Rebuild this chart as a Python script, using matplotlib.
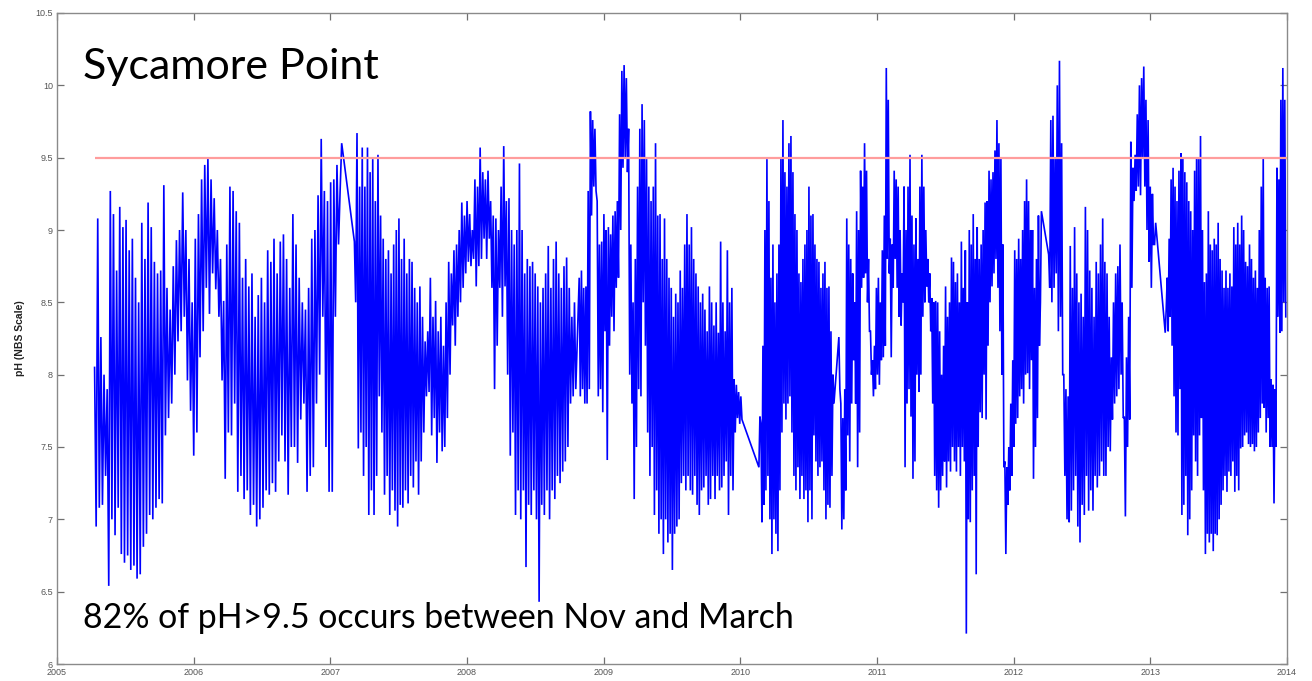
import numpy as np
import matplotlib
matplotlib.use("Agg")
import matplotlib.pyplot as plt

# ---------------------------------------------------------------------------
# Sycamore Point pH record (NBS scale). Each block is a continuous stretch of
# the logger record: (start year, end year, readings in time order).
# Straight joins between blocks are the gaps in the record.
# ---------------------------------------------------------------------------
ph_2005_2007 = [
    8.05, 6.95, 9.08, 7.08, 8.26, 7.10, 8.00, 7.30, 7.90, 6.54,
    9.27, 7.00, 9.11, 6.89, 8.72, 7.08, 9.16, 6.76, 9.02, 6.70,
    9.07, 6.75, 8.86, 6.65, 8.94, 6.68, 8.67, 6.59, 8.50, 6.62,
    9.05, 6.81, 8.80, 6.90, 9.19, 7.03, 9.02, 7.00, 8.78, 7.08,
    8.70, 7.14, 8.72, 7.11, 9.31, 7.58, 8.60, 7.70, 8.45, 7.80,
    8.75, 8.00, 8.93, 8.23, 9.00, 8.30, 9.26, 8.40, 9.00, 7.96,
    8.80, 7.75, 8.50, 7.44, 8.94, 7.60, 9.11, 8.12, 9.35, 8.30,
    9.45, 8.60, 9.50, 8.42, 9.35, 8.70, 9.22, 8.59, 9.00, 8.40,
    8.80, 7.96, 8.51, 7.28, 8.90, 7.60, 9.30, 7.58, 9.27, 7.80,
    9.13, 7.19, 9.05, 7.30, 8.67, 7.14, 8.80, 7.20, 8.61, 7.03,
    8.70, 7.10, 8.40, 6.95, 8.55, 7.00, 8.67, 7.08, 8.50, 7.20,
    8.86, 7.17, 8.78, 7.25, 8.94, 7.19, 8.70, 7.40, 8.92, 7.58,
    8.97, 7.40, 8.80, 7.17, 8.60, 7.50, 9.11, 7.50, 8.90, 7.39,
    8.67, 7.69, 8.50, 7.80, 8.45, 7.19, 8.60, 7.30, 8.94, 7.36,
    9.00, 7.80, 9.24, 8.00, 9.63, 8.40, 9.27, 7.50, 9.20, 7.19,
    9.33, 7.19, 9.35, 8.40, 9.45, 8.90, 9.27, 9.60,
]

ph_2007_2008 = [
    8.92, 8.50, 9.67, 7.49, 9.30, 7.60, 9.57, 7.30, 9.30, 7.50,
    9.57, 7.03, 9.40, 7.20, 9.49, 7.03, 9.20, 7.30, 9.52, 7.85,
    9.10, 7.60, 8.94, 7.17, 8.80, 7.30, 8.86, 7.03, 8.70, 7.20,
    8.90, 7.06, 9.00, 6.95, 9.08, 7.10, 8.80, 7.08, 8.94, 7.20,
    8.70, 7.11, 8.80, 7.30, 8.78, 7.22, 8.60, 7.40, 8.50, 7.17,
    8.61, 7.40, 8.40, 7.60, 8.23, 7.85, 8.30, 7.88, 8.67, 7.58,
    8.40, 7.70, 8.51, 7.39, 8.30, 7.60, 8.40, 7.47, 8.20, 7.50,
    8.50, 7.70, 8.78, 8.00, 8.70, 8.34, 8.86, 8.20, 8.90, 8.40,
    9.00, 8.50, 9.19, 8.60, 9.10, 8.70, 9.20, 8.78, 9.11, 8.75,
    9.00, 8.80, 9.35, 8.61, 9.30, 8.75, 9.57, 8.80, 9.40, 8.94,
    9.35, 8.80, 9.41, 8.94, 9.20, 8.60, 9.10, 7.90, 9.08, 8.20,
    9.00, 8.60, 9.30, 8.40, 9.58, 8.61, 9.20, 8.00, 9.22, 7.44,
    9.00, 7.60, 8.90, 7.03, 9.00, 7.20, 9.46, 7.00, 9.00, 7.20,
    8.70, 6.67, 8.80, 7.10, 8.75, 7.03, 8.78, 7.20, 8.70, 7.00,
    8.61, 6.43, 8.50, 7.10, 8.60, 7.03, 8.70, 7.20, 8.89, 7.00,
    8.60, 7.20, 8.80, 7.14, 8.92, 7.30, 8.70, 7.25, 8.60, 7.33,
    8.75, 7.40, 8.81, 7.50, 8.60, 7.80, 8.40, 7.85, 8.50, 7.90,
]

ph_2008_2010 = [
    8.67, 7.85, 8.72, 7.90, 8.60, 7.80, 8.61, 7.80, 9.27, 7.90,
    9.82, 9.10, 9.76, 9.30, 9.70, 9.27, 9.20, 7.85, 8.90, 7.90,
    8.92, 7.74, 9.11, 8.30, 9.00, 7.41, 9.02, 8.20, 8.97, 8.40,
    9.10, 8.30, 9.13, 8.60, 9.20, 8.67, 9.80, 9.00, 10.10, 9.43,
    10.14, 9.50, 10.05, 9.40, 9.70, 8.00, 8.90, 7.80, 8.50, 7.14,
    8.80, 7.50, 9.30, 7.90, 9.70, 7.85, 9.87, 8.50, 9.76, 8.20,
    9.49, 7.60, 9.30, 7.30, 9.20, 7.50, 9.30, 7.03, 9.60, 7.20,
    9.10, 6.90, 9.11, 7.00, 8.80, 6.76, 9.08, 7.00, 8.80, 6.84,
    8.67, 6.90, 8.60, 6.65, 8.40, 6.90, 8.56, 6.95, 8.50, 7.00,
    8.72, 7.25, 8.60, 7.30, 8.90, 7.20, 9.11, 7.30, 8.90, 7.20,
    9.02, 7.17, 8.80, 7.30, 8.70, 7.10, 8.61, 7.03, 8.50, 7.20,
    8.56, 7.22, 8.45, 7.30, 8.30, 7.10, 8.61, 7.14, 8.50, 7.30,
    8.34, 7.14, 8.50, 7.30, 8.29, 7.20, 8.92, 7.22, 8.50, 7.30,
    8.30, 7.40, 8.86, 7.03, 8.50, 7.30, 8.60, 7.20, 7.97, 7.60,
    7.93, 7.70, 7.88, 7.66, 7.85, 7.69,
]

ph_2010a = [
    7.36, 7.71, 7.66, 6.98, 8.20, 7.10, 9.00, 7.20, 9.49, 7.30,
    9.20, 7.00, 8.67, 6.76, 8.90, 7.00, 8.50, 6.90, 8.70, 6.78,
    8.90, 7.20, 9.50, 7.60, 9.76, 7.80, 9.40, 7.69, 9.30, 7.80,
    9.60, 7.85, 9.65, 7.60, 9.40, 7.30, 9.11, 7.20, 9.00, 7.36,
    8.70, 7.14, 8.64, 7.30, 8.80, 7.14, 8.90, 7.20, 9.00, 6.98,
    9.30, 7.20, 9.10, 7.00, 9.11, 7.58, 8.90, 7.40, 8.80, 7.30,
    8.78, 7.36, 8.60, 7.40, 8.70, 7.20, 8.78, 7.00, 8.60, 7.10,
    8.61, 7.08, 8.30, 7.30, 8.00, 7.80,
]

ph_2010b_2012 = [
    8.26, 7.90, 7.80, 6.93, 7.70, 7.00, 7.90, 7.20, 9.08, 7.58,
    8.90, 7.40, 8.80, 7.80, 8.70, 8.10, 8.50, 7.80, 9.13, 7.36,
    9.00, 7.60, 9.41, 8.60, 9.30, 8.67, 9.60, 8.70, 9.41, 8.50,
    8.80, 8.30, 8.30, 8.00, 8.10, 7.85, 8.20, 7.90, 8.60, 8.00,
    8.67, 7.93, 8.50, 8.10, 8.86, 8.12, 9.10, 8.20, 10.12, 8.80,
    9.90, 8.70, 8.94, 8.12, 8.90, 8.60, 9.41, 8.80, 9.35, 8.60,
    9.30, 8.40, 9.00, 8.34, 8.70, 8.50, 9.30, 7.36, 9.00, 7.80,
    9.30, 7.90, 9.52, 7.71, 9.10, 7.28, 8.90, 7.40, 9.08, 8.00,
    8.80, 7.88, 9.30, 8.00, 9.52, 8.40, 9.30, 8.50, 9.00, 8.61,
    8.80, 8.50, 8.70, 8.30, 8.53, 7.80, 8.50, 7.30, 8.51, 7.20,
    8.50, 7.08, 8.30, 7.20, 8.00, 7.30, 8.20, 7.40, 8.61, 7.22,
    8.40, 7.40, 8.50, 7.33, 8.81, 7.50, 8.78, 7.40, 8.64, 7.33,
    8.70, 7.50, 8.50, 7.30, 8.92, 7.50, 8.60, 7.40, 8.86, 6.21,
    8.50, 7.00, 9.00, 6.98, 8.90, 7.20, 9.11, 7.30, 8.80, 6.62,
    9.02, 7.50, 8.80, 7.74, 8.90, 7.70, 9.00, 8.00, 9.19, 7.69,
    9.20, 8.20, 9.41, 8.50, 9.35, 8.61, 9.40, 8.70, 9.55, 8.80,
    9.76, 8.60, 9.60, 8.30, 9.50, 8.00, 8.90, 7.36, 7.40, 6.76,
    7.36, 7.10, 7.50, 7.20, 7.80, 7.30, 8.10, 7.50, 8.86, 7.66,
    8.80, 7.70, 8.94, 7.85, 8.80, 7.90, 9.00, 7.80, 9.20, 8.00,
    9.35, 8.01, 9.20, 7.90, 9.00, 8.10, 9.00, 7.28, 8.60, 7.50,
    8.80, 7.70, 9.10, 8.20, 8.50, 9.13,
]

ph_2012_2013 = [
    8.83, 8.60, 9.76, 8.50, 9.79, 8.60, 9.50, 8.70, 10.00, 8.30,
    10.17, 8.40, 9.60, 8.00, 8.00, 7.30, 7.90, 7.00, 7.85, 6.98,
    8.89, 7.06, 8.60, 7.20, 9.02, 7.30, 8.70, 6.95, 8.50, 6.84,
    8.56, 7.10, 8.40, 7.03, 9.16, 7.30, 9.00, 7.06, 8.72, 7.20,
    8.60, 7.06, 8.40, 7.30, 8.78, 7.22, 8.70, 7.30, 8.90, 7.40,
    9.08, 7.30, 8.78, 7.30, 8.70, 7.50, 8.40, 7.47, 8.12, 7.69,
    8.50, 7.80, 8.70, 7.85, 8.75, 7.90, 8.90, 8.00, 8.50, 7.70,
    7.71, 7.02, 8.12, 7.50, 8.40, 7.69, 9.61, 8.60, 9.43, 9.20,
    9.52, 9.27, 9.80, 9.30, 10.00, 9.24, 10.05, 9.50, 10.13, 9.30,
    9.90, 9.00, 9.76, 8.78, 9.30, 8.60, 9.25, 8.90, 8.90, 9.05,
]

ph_2013_2014 = [
    8.29, 8.45, 8.67, 8.30, 8.94, 8.40, 9.35, 8.20, 9.43, 7.85,
    9.30, 7.60, 9.20, 7.58, 9.41, 7.90, 9.53, 7.03, 9.50, 7.10,
    9.40, 7.30, 9.33, 6.89, 9.20, 7.00, 9.13, 7.20, 9.00, 7.58,
    9.41, 7.40, 9.50, 7.30, 9.49, 7.58, 9.65, 7.70, 9.00, 7.20,
    8.64, 6.76, 8.70, 6.90, 9.13, 6.84, 8.90, 6.90, 8.86, 6.78,
    8.94, 6.90, 8.90, 6.89, 9.05, 7.00, 8.80, 7.10, 8.72, 7.20,
    8.60, 7.30, 8.72, 7.19, 8.60, 7.33, 8.70, 7.30, 8.61, 7.40,
    9.02, 7.19, 8.90, 7.30, 9.05, 7.20, 8.90, 7.49, 9.10, 7.50,
    9.00, 7.58, 8.78, 7.60, 8.75, 7.52, 8.90, 7.50, 8.80, 7.52,
    8.67, 7.47, 8.72, 7.50, 8.60, 7.60, 9.00, 7.70, 9.30, 7.80,
    9.50, 7.77, 8.67, 7.60, 8.60, 7.70, 8.61, 7.50, 7.97, 7.50,
    7.93, 7.11, 7.90, 7.50, 9.43, 8.40, 9.35, 8.29, 9.90, 8.30,
    10.12, 8.50, 9.90, 8.40,
]

record_blocks = [
    (2005.275, 2007.083, ph_2005_2007),
    (2007.176, 2008.796, ph_2007_2008),
    (2008.821, 2010.012, ph_2008_2010),
    (2010.136, 2010.685, ph_2010a),
    (2010.721, 2012.203, ph_2010b_2012),
    (2012.256, 2013.039, ph_2012_2013),
    (2013.109, 2013.991, ph_2013_2014),
]

threshold = 9.5
x_ticks = list(range(2005, 2015))
y_ticks = [6, 6.5, 7, 7.5, 8, 8.5, 9, 9.5, 10, 10.5]
y_tick_labels = ["6", "6.5", "7", "7.5", "8", "8.5", "9", "9.5", "10", "10.5"]

title_text = "Sycamore Point"
note_text = "82% of pH>9.5 occurs between Nov and March"
y_label = "pH (NBS Scale)"

# ---------------------------------------------------------------------------
W, H = 1312, 681
fig = plt.figure(figsize=(W / 100, H / 100), dpi=100)
ax = fig.add_axes([57 / W, 1 - 664 / H, (1287 - 57) / W, (664 - 13) / H])

times, values = [], []
for t0, t1, vals in record_blocks:
    times.append(np.linspace(t0, t1, len(vals)))
    values.append(np.asarray(vals, dtype=float))
times = np.concatenate(times)
values = np.concatenate(values)

ax.plot(times, values, color="#0000ff", lw=1.2, solid_joinstyle="miter", zorder=2)
ax.hlines(threshold, record_blocks[0][0], 2014.0, color="#ff9c9c", lw=1.6, zorder=3)

ax.set_xlim(2005, 2014)
ax.set_ylim(6, 10.5)
ax.set_xticks(x_ticks)
ax.set_xticklabels([str(x) for x in x_ticks])
ax.set_yticks(y_ticks)
ax.set_yticklabels(y_tick_labels)

frame_col = "#8a8a8a"
for sp in ax.spines.values():
    sp.set_color(frame_col)
    sp.set_linewidth(1.0)
ax.tick_params(direction="in", length=5, width=0.9, color="#707070",
               top=True, right=True, labelsize=6.5, labelcolor="#555555", pad=3)
for lab in ax.get_xticklabels() + ax.get_yticklabels():
    lab.set_family("Liberation Sans")

fig.text(20 / W, 1 - 338 / H, y_label, rotation=90, ha="center", va="center",
         fontsize=7.5, fontweight="bold", color="#222222", family="Liberation Sans")

fig.text(83 / W, 1 - 67 / H, title_text, ha="left", va="center",
         fontsize=31, color="black", family="Lato")
fig.text(83 / W, 1 - 618 / H, note_text, ha="left", va="center",
         fontsize=24.4, color="black", family="Lato")

fig.savefig("out.png", dpi=100)
